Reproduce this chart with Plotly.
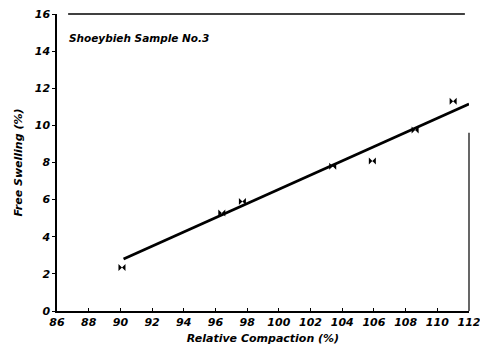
import plotly.graph_objects as go

# measured points
compaction = [90.1, 96.4, 97.7, 103.4, 105.9, 108.6, 111.0]
swelling = [2.35, 5.28, 5.9, 7.8, 8.08, 9.75, 11.3]
# fitted line endpoints
fit_x = [90.2, 112.0]
fit_y = [2.8, 11.15]

x_ticks = list(range(86, 113, 2))
y_ticks = list(range(0, 17, 2))

FAM = "DejaVu Sans, Liberation Sans, sans-serif"


def bi(s):
    return "<b><i>" + s + "</i></b>"


fig = go.Figure()
fig.add_trace(go.Scatter(x=fit_x, y=fit_y, mode="lines",
                         line=dict(color="black", width=2.8), showlegend=False))
fig.add_trace(go.Scatter(x=compaction, y=swelling, mode="markers",
                         marker=dict(symbol="bowtie", size=7, color="black"), showlegend=False))

fig.update_layout(
    width=480, height=350,
    margin=dict(l=57, r=11, t=14, b=39),
    paper_bgcolor="white", plot_bgcolor="white",
    font=dict(family=FAM, color="black", size=11),
    showlegend=False,
    xaxis=dict(range=[86, 112], tickvals=x_ticks, ticktext=[bi(str(v)) for v in x_ticks],
               showgrid=False, zeroline=False, showline=True, linecolor="black", linewidth=1.5,
               ticks="inside", ticklen=3, tickcolor="black", tickwidth=1,
               ticklabeloverflow="allow", automargin=False,
               tickfont=dict(size=11, family=FAM),
               title=dict(text=bi("Relative Compaction (%)"), standoff=6,
                          font=dict(size=11, family=FAM))),
    yaxis=dict(range=[0, 16], tickvals=y_ticks, ticktext=[bi(str(v)) for v in y_ticks],
               showgrid=False, zeroline=False, showline=True, linecolor="black", linewidth=1.5,
               ticks="outside", ticklen=3, tickcolor="black", tickwidth=1,
               ticklabeloverflow="allow", automargin=False,
               tickfont=dict(size=11, family=FAM),
               title=dict(text=bi("Free Swelling (%)"), standoff=10,
                          font=dict(size=11, family=FAM))),
    shapes=[
        dict(type="line", xref="paper", yref="paper", x0=0.027, x1=0.99, y0=1, y1=1,
             line=dict(color="black", width=1.5)),
        dict(type="line", xref="paper", yref="paper", x0=1, x1=1, y0=0, y1=0.6,
             line=dict(color="black", width=1.2)),
    ],
    annotations=[
        dict(text=bi("Shoeybieh Sample No.3"), xref="paper", yref="paper", x=0.025, y=0.92,
             xanchor="left", yanchor="middle", showarrow=False,
             font=dict(size=10.5, family=FAM)),
    ],
)

fig.write_html("out.html")
